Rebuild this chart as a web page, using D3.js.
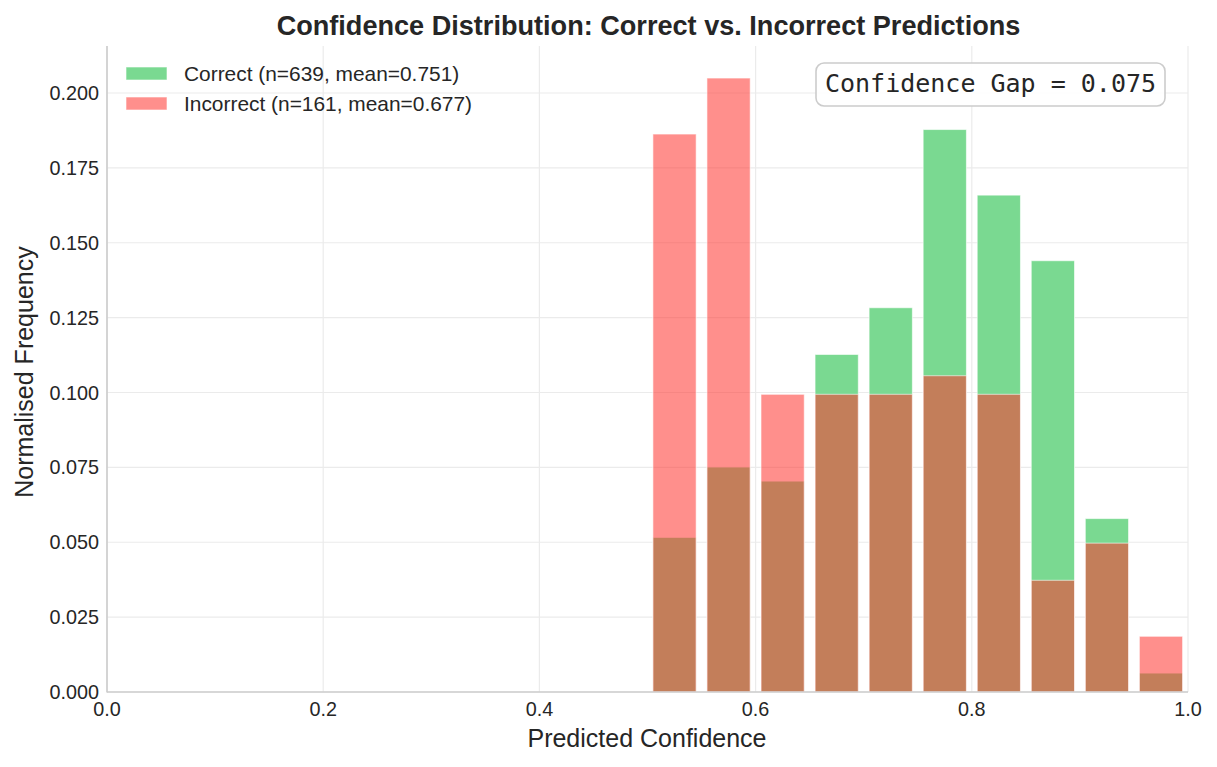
<!DOCTYPE html>
<html><head><meta charset="utf-8">
<script src="https://cdn.jsdelivr.net/npm/d3@7"></script>
<style>body{margin:0;background:#fff}svg text{font-family:"Liberation Sans",Arial,sans-serif;fill:#262626}</style>
</head><body><svg id="c" width="1217" height="767"></svg>
<script>
const binEdges = [0.50,0.55,0.60,0.65,0.70,0.75,0.80,0.85,0.90,0.95,1.00];
const correctFreq = [0.0516,0.0751,0.0704,0.1127,0.1283,0.1878,0.1659,0.1440,0.0579,0.0063];
const incorrectFreq = [0.1863,0.2050,0.0994,0.0994,0.0994,0.1056,0.0994,0.0373,0.0497,0.0186];
const xTicks = [0,0.2,0.4,0.6,0.8,1.0];
const yTicks = [0,0.025,0.05,0.075,0.1,0.125,0.15,0.175,0.2];
const legendLabels = ["Correct (n=639, mean=0.751)","Incorrect (n=161, mean=0.677)"];
const gapText = "Confidence Gap = 0.075";

const svg = d3.select("#c");
const L=107,R=1188,T=46,B=692;
const x = d3.scaleLinear().domain([0,1]).range([L,R]);
const y = d3.scaleLinear().domain([0,0.2157]).range([B,T]);
const gridC="#ebebeb";
const g = svg.append("g");
xTicks.forEach(t=>g.append("line").attr("x1",x(t)).attr("x2",x(t)).attr("y1",T).attr("y2",B).attr("stroke",gridC).attr("stroke-width",1.2));
yTicks.forEach(t=>g.append("line").attr("x1",L).attr("x2",R).attr("y1",y(t)).attr("y2",y(t)).attr("stroke",gridC).attr("stroke-width",1.2));

const bins = correctFreq.map((c,i)=>({x0:binEdges[i],x1:binEdges[i+1],c,w:incorrectFreq[i]}));
const rw=0.8;
function bx(d){return x(d.x0+(d.x1-d.x0)*(1-rw)/2);}
function bw(d){return x(d.x0+(d.x1-d.x0)*rw)-x(d.x0);}
const greenC="#7ad991", greenO=1, redC="#ff332e", redO=0.55;
svg.append("g").selectAll("rect").data(bins).join("rect")
 .attr("x",bx).attr("width",bw).attr("y",d=>y(d.c)).attr("height",d=>y(0)-y(d.c))
 .attr("fill",greenC).attr("fill-opacity",greenO).attr("stroke","#fff").attr("stroke-opacity",0.6).attr("stroke-width",1);
svg.append("g").selectAll("rect").data(bins).join("rect")
 .attr("x",bx).attr("width",bw).attr("y",d=>y(d.w)).attr("height",d=>y(0)-y(d.w))
 .attr("fill",redC).attr("fill-opacity",redO).attr("stroke","#fff").attr("stroke-opacity",0.6).attr("stroke-width",1);

// spines
svg.append("line").attr("x1",L).attr("x2",L).attr("y1",T).attr("y2",B+0.5).attr("stroke","#cccccc").attr("stroke-width",1.6);
svg.append("line").attr("x1",L).attr("x2",R).attr("y1",B).attr("y2",B).attr("stroke","#cccccc").attr("stroke-width",1.6);

// tick labels
xTicks.forEach(t=>svg.append("text").attr("x",x(t)).attr("y",716).attr("text-anchor","middle").attr("font-size",19.8).text(t.toFixed(1)));
yTicks.forEach(t=>svg.append("text").attr("x",L-8).attr("y",y(t)+7).attr("text-anchor","end").attr("font-size",19.8).text(t.toFixed(3)));

svg.append("text").attr("x",647).attr("y",747).attr("text-anchor","middle").attr("font-size",25).text("Predicted Confidence");
svg.append("text").attr("transform",`translate(33,372) rotate(-90)`).attr("text-anchor","middle").attr("font-size",25).text("Normalised Frequency");
svg.append("text").attr("x",648.5).attr("y",35).attr("text-anchor","middle").attr("font-size",27.1).attr("font-weight","bold").text("Confidence Distribution: Correct vs. Incorrect Predictions");

// legend
const lg = svg.append("g");
[[greenC,greenO],[redC,redO]].forEach((c,i)=>{
  lg.append("rect").attr("x",126).attr("y",67+i*30).attr("width",41).attr("height",13).attr("fill",c[0]).attr("fill-opacity",c[1]).attr("stroke","#fff").attr("stroke-opacity",0.6);
  lg.append("text").attr("x",184).attr("y",81+i*29.5).attr("font-size",20.9).text(legendLabels[i]);
});

// gap box
svg.append("rect").attr("x",816).attr("y",63).attr("width",349).attr("height",43).attr("rx",8).attr("fill","#fff").attr("fill-opacity",0.9).attr("stroke","#cccccc").attr("stroke-width",1.6);
svg.append("text").attr("x",990.5).attr("y",92).attr("text-anchor","middle").attr("font-size",25).style("font-family","'DejaVu Sans Mono',monospace").text(gapText);
</script></body></html>
